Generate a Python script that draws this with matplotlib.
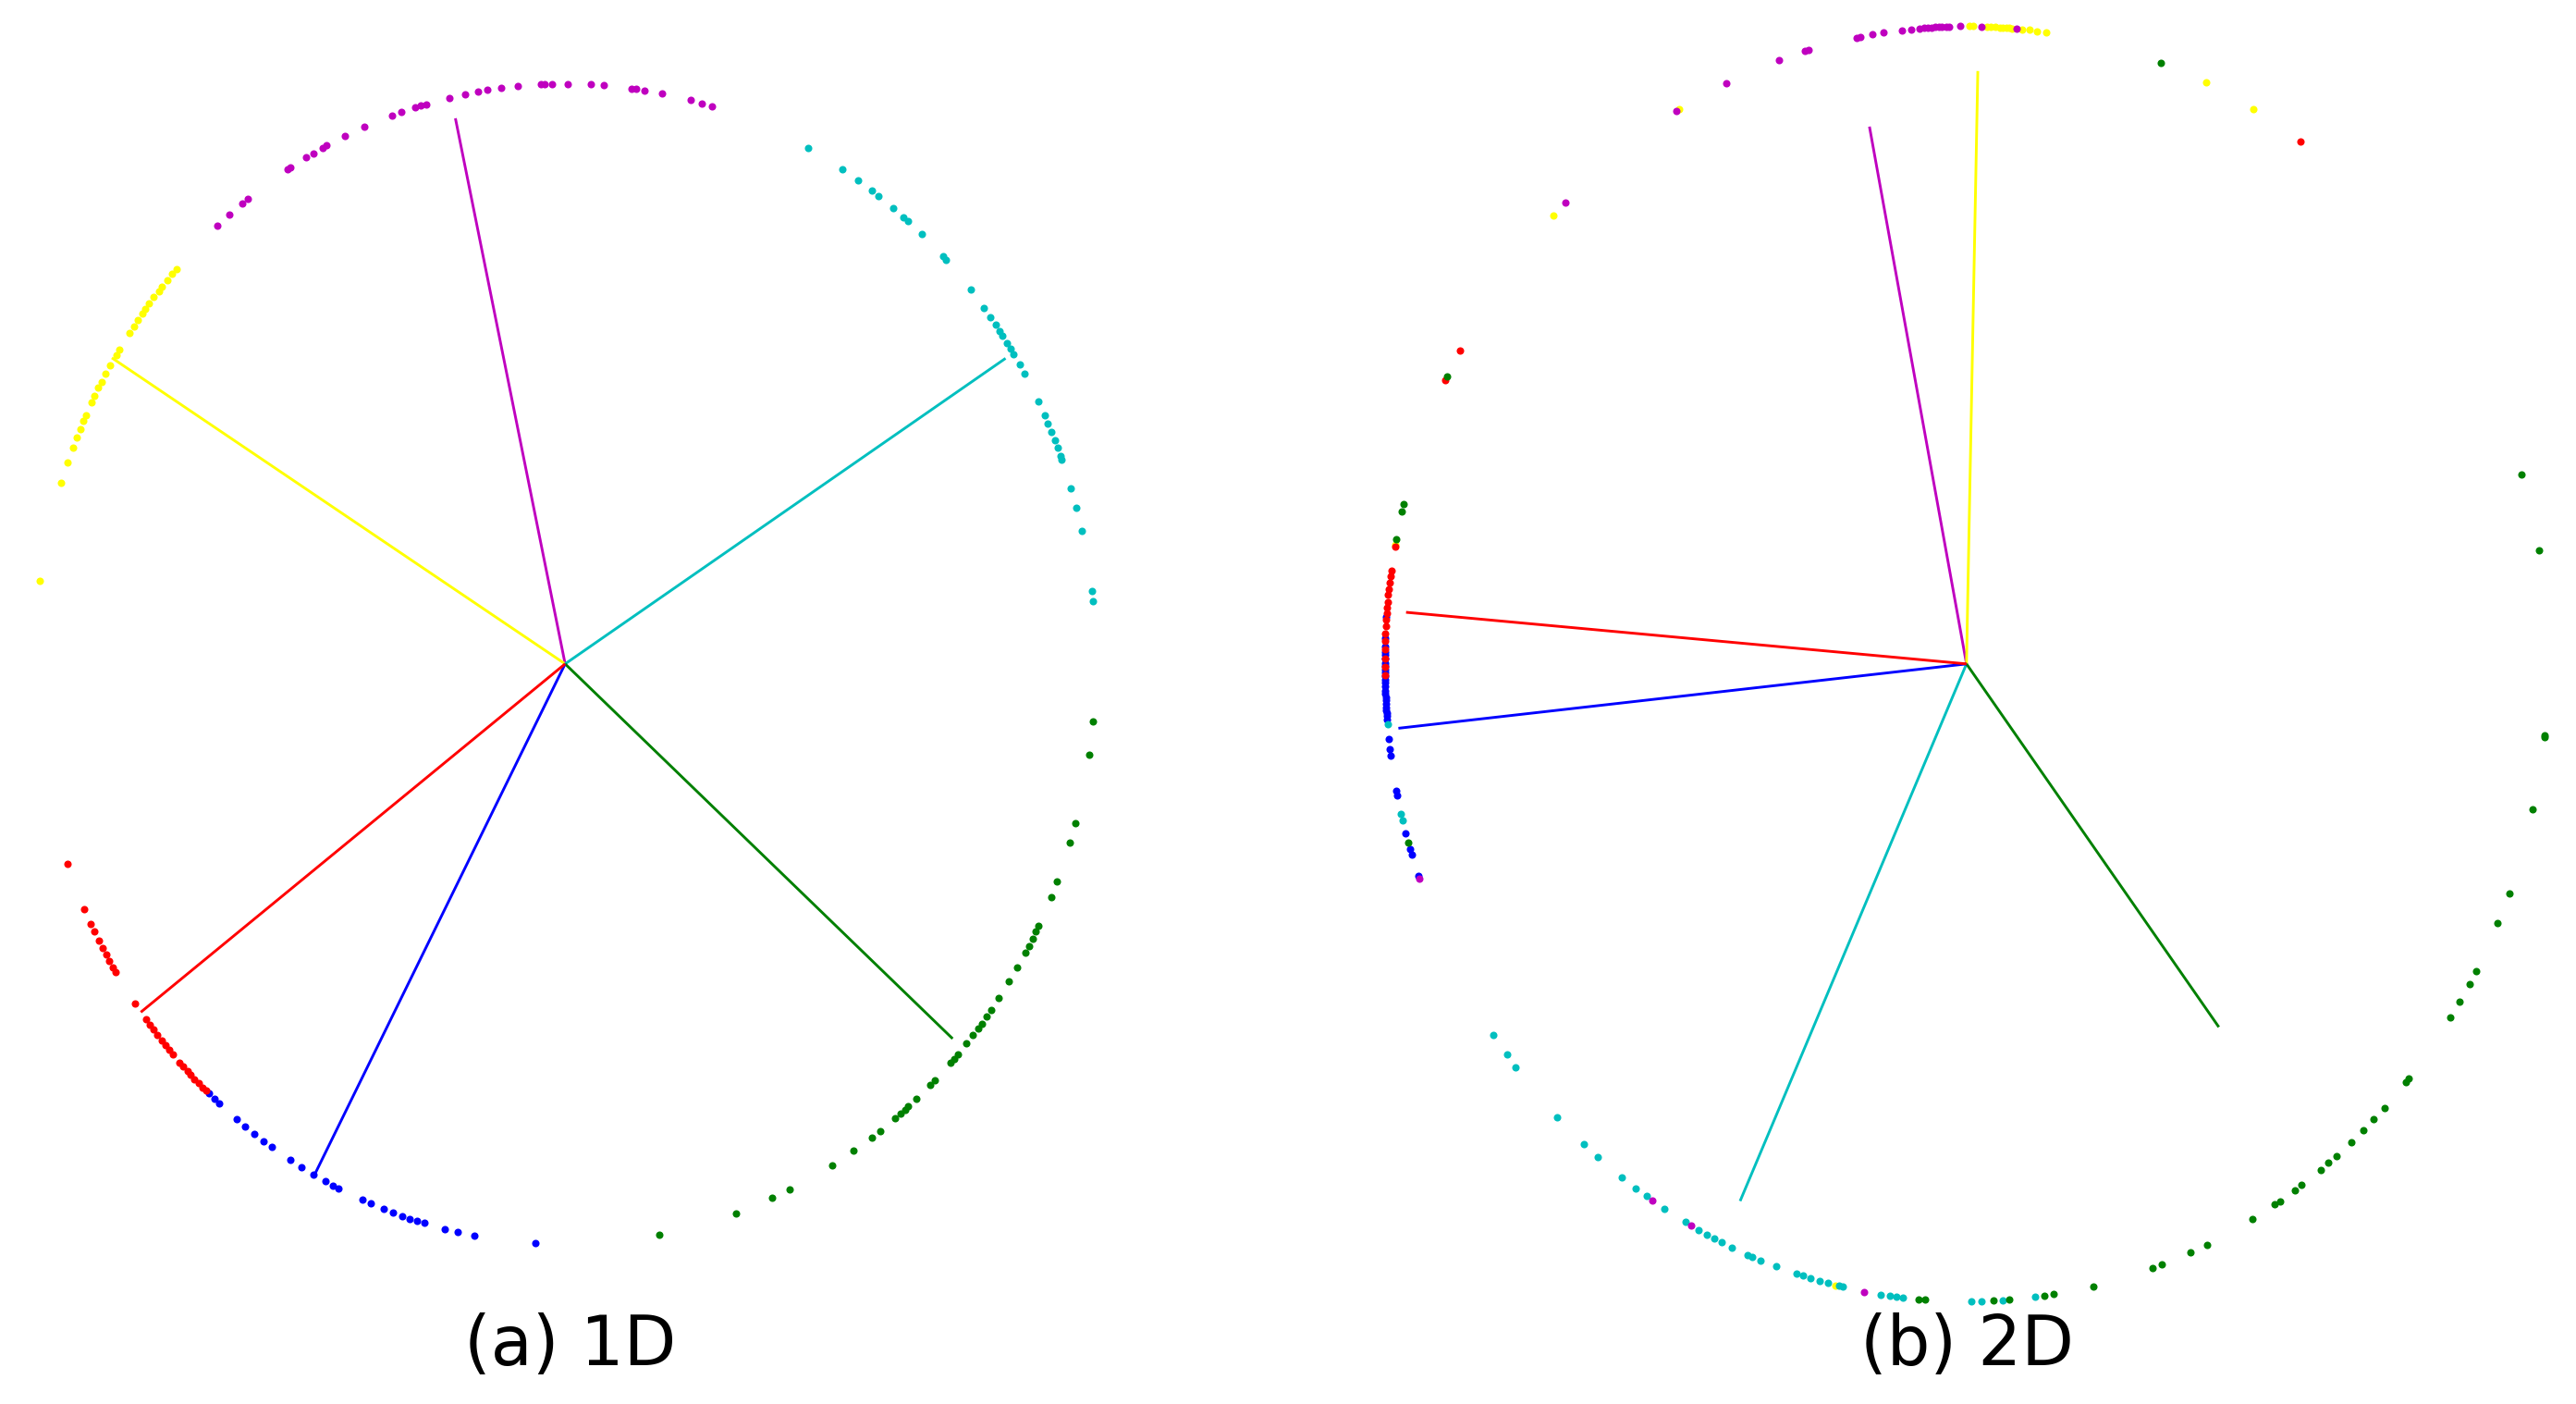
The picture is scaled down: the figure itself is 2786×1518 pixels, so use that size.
import numpy as np
import matplotlib.pyplot as plt

# class order used by every list below
classes = ["magenta", "yellow", "cyan", "green", "blue", "red"]
class_colors = {"magenta": "#bf00bf", "yellow": "#ffff00", "cyan": "#00bfbf",
                "green": "#008000", "blue": "#0000ff", "red": "#ff0000"}

# ---- panel (a) 1D : angle (deg) of each normalised feature on the unit circle
a_magenta = [131.0, 129.2, 127.5, 126.7, 121.5, 121.2, 119.2, 118.3, 117.2, 116.7,
             114.5, 112.2, 109.0, 108.0, 106.4, 105.8, 105.2, 102.6, 100.9, 99.4,
             98.4, 96.9, 95.1, 92.6, 92.2, 91.4, 89.7, 87.2, 85.8, 82.8, 82.3,
             81.4, 79.5, 76.3, 75.1, 73.9]
a_yellow = [137.1, 137.8, 138.6, 139.5, 140.0, 140.8, 141.6, 142.3, 142.8, 143.6,
            144.4, 145.2, 147.2, 147.8, 149.0, 150.0, 150.9, 151.6, 152.5, 153.2,
            154.6, 155.2, 156.1, 157.0, 158.1, 159.7, 161.8, 171.8]
a_cyan = [62.7, 58.5, 56.5, 54.7, 53.8, 51.8, 50.4, 49.7, 47.8, 44.6, 44.2, 40.2,
          37.9, 36.7, 35.8, 35.0, 34.5, 33.6, 32.9, 32.3, 31.1, 30.0, 26.9, 25.4,
          24.5, 23.6, 22.7, 21.9, 21.0, 20.6, 17.6, 15.6, 13.3, 7.2, 6.2]
a_green = [-79.8, -71.2, -67.0, -65.0, -59.8, -57.1, -54.7, -53.6, -51.5, -50.8,
           -50.2, -49.7, -48.5, -46.5, -45.9, -43.4, -42.9, -42.3, -40.9, -39.8,
           -38.9, -38.3, -37.4, -36.6, -35.2, -33.2, -31.6, -29.9, -29.1, -28.3,
           -27.5, -26.8, -23.7, -22.0, -17.9, -15.9, -9.0, -5.7]
a_blue = [-132.2, -131.4, -130.7, -128.3, -127.1, -125.8, -124.6, -123.6, -121.2,
          -119.8, -118.3, -116.9, -116.0, -115.3, -112.5, -111.5, -110.0, -108.9,
          -107.9, -107.0, -106.2, -105.4, -103.1, -101.7, -99.9, -93.2]
a_red = [-159.8, -155.0, -153.4, -152.5, -151.5, -150.7, -149.9, -149.2, -148.5,
         -147.9, -144.2, -142.2, -141.5, -140.9, -140.2, -139.5, -138.9, -138.3,
         -137.7, -136.6, -136.1, -135.4, -134.9, -134.3, -133.7, -133.1, -132.6]
# class centre vectors (angle deg, length), same order as classes
a_line_deg = [102.4, 148.3, 32.4, -41.5, -118.2, -143.1]
a_line_len = [0.963, 1.004, 0.983, 0.975, 0.996, 1.000]

# ---- panel (b) 2D
b_magenta = [133.6, 119.9, 114.4, 108.8, 106.1, 105.8, 100.9, 100.5, 99.3, 98.2,
             96.4, 95.5, 94.6, 94.2, 93.8, 93.4, 93.1, 92.7, 92.4, 92.0, 91.7,
             90.6, 88.5, 85.1, 199.7, -122.7, -118.3, -100.1]
b_yellow = [135.3, 119.6, 89.7, 89.3, 88.0, 87.6, 87.2, 86.7, 86.4, 86.1, 85.8,
            85.5, 84.5, 83.8, 83.0, 82.1, 65.7, 60.5, 169.2, -103.0]
b_cyan = [185.45, 193.6, 194.2, -144.4, -142.2, -140.8, -134.7, -131.1, -129.4,
          -126.4, -124.7, -123.4, -121.3, -118.9, -117.4, -116.5, -115.7, -114.9,
          -113.8, -112.1, -111.6, -110.7, -109.1, -107.0, -106.3, -105.6, -104.6,
          -103.8, -102.7, -102.3, -98.5, -97.6, -96.9, -96.3, -89.55, -88.55,
          -86.45, -83.2]
b_green = [70.5, 17.3, 10.3, 153.2, 165.5, 166.2, 168.75, 196.3, -94.7, -94.1,
           -87.3, -85.8, -82.3, -81.4, -77.4, -71.3, -70.4, -67.4, -65.6, -60.6,
           -58.0, -57.4, -55.6, -54.8, -52.5, -51.5, -50.5, -48.6, -47.0, -45.6,
           -44.1, -41.0, -40.5, -33.7, -32.0, -30.1, -28.8, -24.0, -21.1, -13.2,
           -6.6, -6.4]
b_blue = [175.8, 177.7, 178.4, 178.9, 179.2, 179.5, 179.9, 180.2, 180.5, 180.8,
          181.1, 181.4, 181.7, 182.0, 182.4, 182.7, 183.0, 183.3, 183.6, 183.9,
          184.2, 184.4, 184.7, 185.0, 186.8, 187.7, 188.25, 191.5, 191.9, 195.4,
          196.9, 197.4, 199.4]
b_red = [55.0, 150.6, 153.6, 169.4, 171.6, 172.1, 172.7, 173.3, 173.8, 174.4,
         174.9, 175.4, 176.0, 176.6, 177.3, 177.9, 178.7, 179.5, 180.3, 181.0]
b_line_deg = [101.2, 88.8, -114.8, -52.7, -174.1, 175.2]
b_line_len = [0.859, 0.930, 0.928, 0.716, 0.982, 0.967]

a_points = {"magenta": a_magenta, "yellow": a_yellow, "cyan": a_cyan,
            "green": a_green, "blue": a_blue, "red": a_red}
b_points = {"magenta": b_magenta, "yellow": b_yellow, "cyan": b_cyan,
            "green": b_green, "blue": b_blue, "red": b_red}

W, H = 2786, 1518
DPI = 100
LIM = 1.06


def make_axes(fig, cx, cy, rx, ry):
    # cx, cy, rx, ry in pixels (cy from the top)
    ax = fig.add_axes([(cx - LIM * rx) / W, (H - cy - LIM * ry) / H,
                       2 * LIM * rx / W, 2 * LIM * ry / H])
    ax.set_xlim(-LIM, LIM)
    ax.set_ylim(-LIM, LIM)
    ax.axis("off")
    return ax


def draw_panel(ax, points, line_deg, line_len, order):
    for name, deg, length in zip(classes, line_deg, line_len):
        t = np.deg2rad(deg)
        ax.plot([0, length * np.cos(t)], [0, length * np.sin(t)],
                color=class_colors[name], lw=2.1, solid_capstyle="butt", zorder=2)
    for name in order:
        t = np.deg2rad(np.array(points[name]))
        ax.plot(np.cos(t), np.sin(t), "o", color=class_colors[name], ms=5.8,
                mew=0, zorder=3, clip_on=False)


fig = plt.figure(figsize=(W / DPI, H / DPI), dpi=DPI)

ax_a = make_axes(fig, 611.2, 717.8, 573.9, 627.2)
draw_panel(ax_a, a_points, a_line_deg, a_line_len,
           ["yellow", "magenta", "cyan", "green", "blue", "red"])

ax_b = make_axes(fig, 2126.8, 717.8, 629.0, 689.4)
draw_panel(ax_b, b_points, b_line_deg, b_line_len,
           ["yellow", "blue", "red", "cyan", "green", "magenta"])

fig.text(617 / W, 1 - 1455 / H, "(a) 1D", ha="center", va="center", fontsize=53)
fig.text(2127 / W, 1 - 1455 / H, "(b) 2D", ha="center", va="center", fontsize=53)

fig.savefig("out.png", dpi=DPI, facecolor="white")
